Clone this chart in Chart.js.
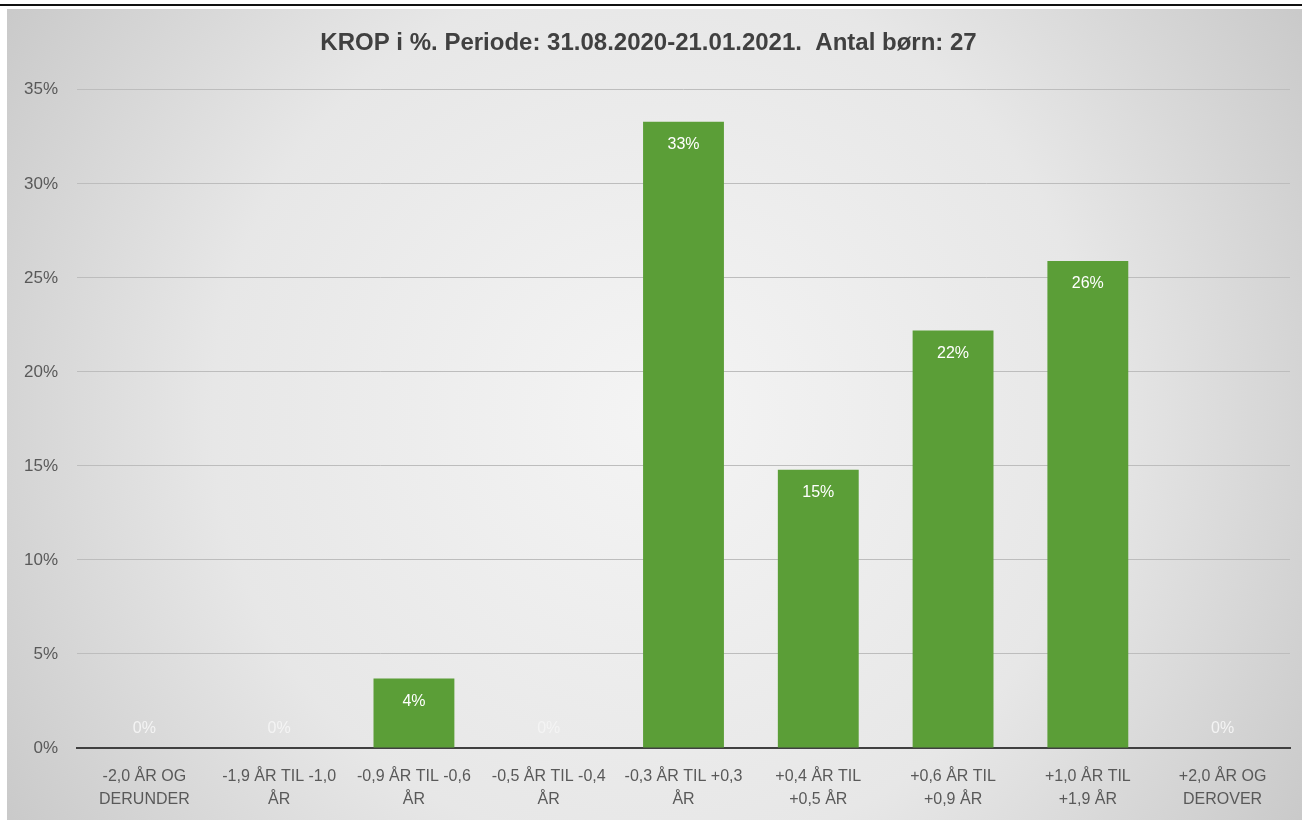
<!DOCTYPE html>
<html>
<head>
<meta charset="utf-8">
<script src="https://cdn.jsdelivr.net/npm/chart.js@4/dist/chart.umd.min.js"></script>
<style>
  html, body { margin: 0; padding: 0; background: #fff; }
  body { width: 1302px; height: 820px; position: relative; overflow: hidden; }
  .topline { position: absolute; left: 0; top: 4px; width: 1302px; height: 2px; background: #111; }
  .wrap { position: absolute; left: 7px; top: 9px; width: 1295px; height: 811px; }
</style>
</head>
<body>
<div class="topline"></div>
<div class="wrap"><canvas id="chart" width="1295" height="811"></canvas></div>
<script>
const titleText = "KROP i %. Periode: 31.08.2020-21.01.2021.  Antal børn: 27";

const categories = [
  ["-2,0 ÅR OG", "DERUNDER"],
  ["-1,9 ÅR TIL -1,0", "ÅR"],
  ["-0,9 ÅR TIL -0,6", "ÅR"],
  ["-0,5 ÅR TIL -0,4", "ÅR"],
  ["-0,3 ÅR TIL +0,3", "ÅR"],
  ["+0,4 ÅR TIL", "+0,5 ÅR"],
  ["+0,6 ÅR TIL", "+0,9 ÅR"],
  ["+1,0 ÅR TIL", "+1,9 ÅR"],
  ["+2,0 ÅR OG", "DEROVER"]
];

const percentValues = [0, 0, 3.7, 0, 33.3, 14.8, 22.2, 25.9, 0];

const yTicks = [0, 5, 10, 15, 20, 25, 30, 35];

const FONT = "'Liberation Sans', Arial, sans-serif";

// gray radial backdrop like the spreadsheet chart area
const backdrop = {
  id: "backdrop",
  beforeDraw(chart) {
    const { ctx, width, height } = chart;
    const g = ctx.createRadialGradient(width / 2, height / 2, 0, width / 2, height / 2, width * 0.62);
    g.addColorStop(0, "#f4f4f4");
    g.addColorStop(0.55, "#e7e7e7");
    g.addColorStop(1, "#c6c6c6");
    ctx.save();
    ctx.fillStyle = g;
    ctx.fillRect(0, 0, width, height);
    ctx.restore();
  }
};

// value labels: inside top of bar, or just above the axis when zero
const valueLabels = {
  id: "valueLabels",
  afterDatasetsDraw(chart) {
    const { ctx } = chart;
    const meta = chart.getDatasetMeta(0);
    const yScale = chart.scales.y;
    ctx.save();
    ctx.font = "16px " + FONT;
    ctx.textAlign = "center";
    ctx.textBaseline = "middle";
    meta.data.forEach((bar, i) => {
      const v = percentValues[i];
      const txt = Math.round(v) + "%";
      let y;
      if (v > 0) {
        y = bar.y + 23;
        ctx.fillStyle = "#ffffff";
      } else {
        y = yScale.getPixelForValue(0) - 19;
        ctx.fillStyle = "#f4f4f4";
      }
      ctx.fillText(txt, bar.x, y);
    });
    ctx.restore();
  }
};

new Chart(document.getElementById("chart"), {
  type: "bar",
  data: {
    labels: categories,
    datasets: [{
      data: percentValues,
      backgroundColor: "#5b9e37",
      borderWidth: 0,
      barPercentage: 0.6,
      categoryPercentage: 1.0
    }]
  },
  options: {
    responsive: false,
    animation: false,
    layout: { padding: { left: 0, right: 12, top: 0, bottom: 0 } },
    plugins: {
      legend: { display: false },
      tooltip: { enabled: false },
      title: {
        display: true,
        text: titleText,
        color: "#404040",
        font: { family: FONT, size: 24, weight: "bold" },
        padding: { top: 20, bottom: 32 }
      }
    },
    scales: {
      x: {
        afterFit(s) { s.height = 72; },
        grid: { display: false, drawTicks: false },
        border: { display: true, color: "#404040", width: 2 },
        ticks: {
          color: "#595959",
          font: { family: FONT, size: 16, lineHeight: 1.45 },
          padding: 17,
          maxRotation: 0,
          minRotation: 0,
          autoSkip: false
        }
      },
      y: {
        min: 0,
        max: 35,
        afterFit(s) { s.width = 70; },
        afterBuildTicks(s) { s.ticks = yTicks.map(v => ({ value: v })); },
        grid: { color: "#bdbdbd", lineWidth: 1, drawTicks: false },
        border: { display: false },
        ticks: {
          color: "#595959",
          font: { family: FONT, size: 17 },
          padding: 19,
          callback: v => v + "%"
        }
      }
    }
  },
  plugins: [backdrop, valueLabels]
});
</script>
</body>
</html>
